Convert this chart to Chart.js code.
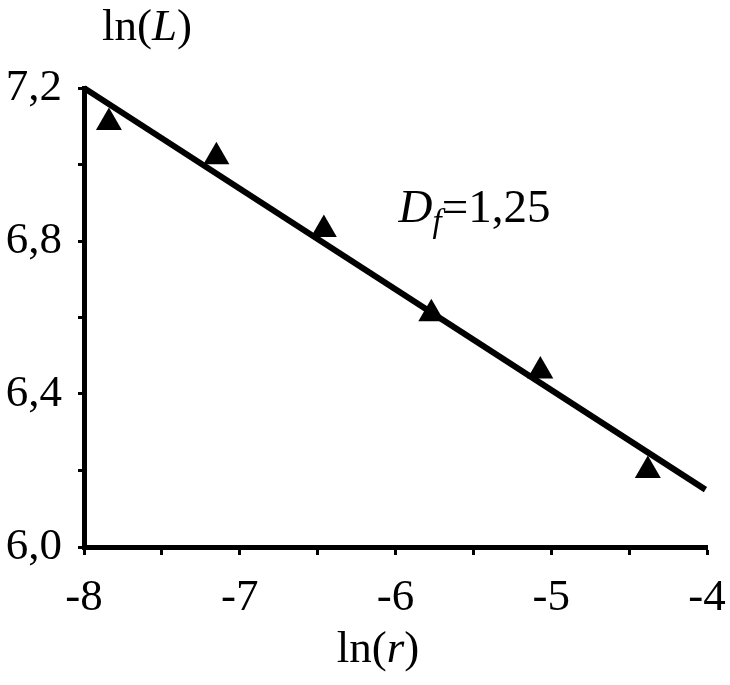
<!DOCTYPE html>
<html>
<head>
<meta charset="utf-8">
<script src="https://cdn.jsdelivr.net/npm/chart.js@4"></script>
<style>
  body { margin: 0; background: #fff; }
  canvas { display: block; }
</style>
</head>
<body>
<canvas id="chart" width="730" height="685"></canvas>
<script>
// measured points (ln r, ln L)
const lnR = [-7.84, -7.15, -6.46, -5.77, -5.07, -4.38]
const lnL = [7.11, 7.02, 6.83, 6.61, 6.46, 6.20]
// fitted line ends
const fitX = [-8, -4.01]
const fitY = [7.2, 6.15]
const xRange = [-8, -4]
const yRange = [6.0, 7.2]
const dfText = '1,25'

const serif = "'Liberation Serif', 'Times New Roman', serif"

function drawParts(ctx, parts, x, y, align) {
  // parts: [text, italic, size, dy]
  let total = 0
  parts.forEach(p => {
    ctx.font = (p[1] ? 'italic ' : '') + p[2] + 'px ' + serif
    total += ctx.measureText(p[0]).width
  })
  let cx = align === 'center' ? x - total / 2 : x
  parts.forEach(p => {
    ctx.font = (p[1] ? 'italic ' : '') + p[2] + 'px ' + serif
    ctx.fillText(p[0], cx, y + (p[3] || 0))
    cx += ctx.measureText(p[0]).width
  })
}

const labelsPlugin = {
  id: 'labels',
  afterDraw(chart) {
    const ctx = chart.ctx
    const area = chart.chartArea
    const xs = chart.scales.x
    const ys = chart.scales.y
    ctx.save()
    ctx.fillStyle = '#000'
    ctx.textBaseline = 'alphabetic'
    ctx.textAlign = 'left'
    // y title on top
    drawParts(ctx, [['ln(', false, 45], ['L', true, 45], [')', false, 45]], area.left + 18, 40, 'left')
    // x title
    drawParts(ctx, [['ln(', false, 45], ['r', true, 45], [')', false, 45]], area.left + 294, 662, 'center')
    // fractal dimension
    drawParts(ctx, [['D', true, 47], ['f', true, 33, 10], ['=' + dfText, false, 47]],
      xs.getPixelForValue(-5.98), ys.getPixelForValue(6.85), 'left')
    ctx.restore()
  }
}

new Chart('chart', {
  type: 'scatter',
  data: {
    datasets: [{
      label: 'fit',
      type: 'line',
      data: fitX.map((x, i) => ({ x: x, y: fitY[i] })),
      borderColor: '#000',
      borderWidth: 6,
      pointRadius: 0,
      fill: false,
      order: 2
    }, {
      label: 'data',
      data: lnR.map((x, i) => ({ x: x, y: lnL[i] })),
      pointStyle: 'triangle',
      pointRadius: 15,
      backgroundColor: '#000',
      borderColor: '#000',
      borderWidth: 0,
      order: 1
    }]
  },
  options: {
    responsive: false,
    animation: false,
    clip: false,
    layout: {
      autoPadding: false,
      padding: { top: 88, right: 23, left: 0, bottom: 0 }
    },
    plugins: {
      legend: { display: false },
      tooltip: { enabled: false }
    },
    scales: {
      x: {
        type: 'linear',
        min: xRange[0],
        max: xRange[1],
        afterFit: s => { s.height = 138; s.paddingLeft = 0; s.paddingRight = 0 },
        border: { display: true, color: '#000', width: 5 },
        grid: { drawOnChartArea: false, drawTicks: true, tickLength: 8, tickWidth: 3, color: '#000' },
        ticks: {
          stepSize: 0.5,
          autoSkip: false,
          maxRotation: 0,
          padding: 16,
          color: '#000',
          font: { family: serif, size: 45 },
          callback: v => Number.isInteger(v) ? String(v) : ''
        }
      },
      y: {
        type: 'linear',
        min: yRange[0],
        max: yRange[1],
        afterFit: s => { s.width = 84; s.paddingTop = 0; s.paddingBottom = 0 },
        border: { display: true, color: '#000', width: 5 },
        grid: { drawOnChartArea: false, drawTicks: true, tickLength: 6, tickWidth: 3, color: '#000' },
        ticks: {
          stepSize: 0.2,
          autoSkip: false,
          padding: 16,
          color: '#000',
          font: { family: serif, size: 45 },
          callback: v => Math.round(v * 10) % 4 === 0 ? v.toFixed(1).replace('.', ',') : ''
        }
      }
    }
  },
  plugins: [labelsPlugin]
})
</script>
</body>
</html>
